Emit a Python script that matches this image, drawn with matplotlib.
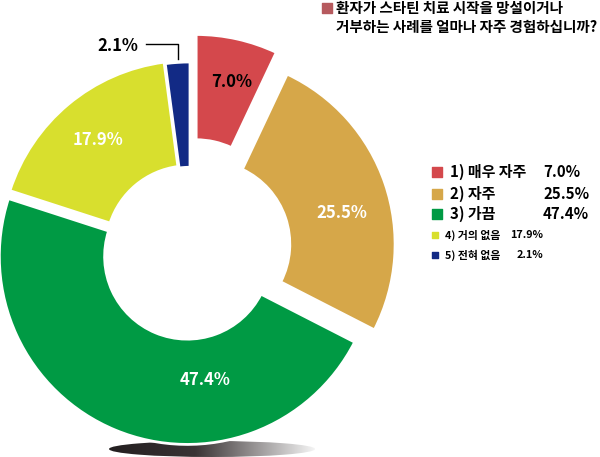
import numpy as np
import matplotlib.pyplot as plt
from matplotlib.patches import Ellipse
from matplotlib.colors import LinearSegmentedColormap

plt.rcParams['font.family'] = ['Noto Sans CJK KR', 'DejaVu Sans']

# data
labels = ['1) 매우 자주', '2) 자주', '3) 가끔', '4) 거의 없음', '5) 전혀 없음']
values = [7.0, 25.5, 47.4, 17.9, 2.1]
colors = ['#d4484c', '#d6a749', '#009a44', '#d8df2e', '#122a85']
explode = [0.15, 0.096, 0.037, 0.01, 0.0]
title_lines = ['환자가 스타틴 치료 시작을 망설이거나', '거부하는 사례를 얼마나 자주 경험하십니까?']

W, H = 600, 457
bx, by, R = 190, 250, 188   # pie centre and radius in pixels


def px(x, y):
    # pixel position (from top-left) -> data coords of the unit pie
    return (x - bx) / R, (by - y) / R


fig = plt.figure(figsize=(W / 100, H / 100), dpi=100)
ax = fig.add_axes([0, 0, 1, 1])

wedges, _ = ax.pie(values, colors=colors, startangle=90, counterclock=False,
                   explode=explode, radius=1.0,
                   wedgeprops=dict(width=0.56, edgecolor='white', linewidth=2))

x0, y0 = px(0, H)
x1, y1 = px(W, 0)

# shadow under the donut
ecx, ecy = px(212, 449)
ell = Ellipse((ecx, ecy), 206 / R, 16 / R, facecolor='none', edgecolor='none')
ax.add_patch(ell)
cmap = LinearSegmentedColormap.from_list('shade', [(0, '#231f20'), (0.42, '#3a3435'), (1, '#f4f4f4')])
grad = np.linspace(0, 1, 256).reshape(1, -1)
img = ax.imshow(grad, cmap=cmap, extent=(ecx - 103 / R, ecx + 103 / R, ecy - 8 / R, ecy + 8 / R),
                aspect='auto', zorder=0)
img.set_clip_path(ell)

ax.set_xlim(x0, x1)
ax.set_ylim(y0, y1)
ax.set_aspect('equal')
ax.axis('off')

# slice labels
lab_pos = [(232, 82), (342, 213), (205, 380), (98, 140)]
lab_col = ['black', 'white', 'white', 'white']
for v, (lx, ly), c in zip(values[:4], lab_pos, lab_col):
    ax.text(*px(lx, ly), f'{v:.1f}%', color=c, fontsize=12, fontweight='bold',
            ha='center', va='center')

# small slice label with leader line
ax.text(*px(118, 46), f'{values[4]:.1f}%', color='black', fontsize=12, fontweight='bold',
        ha='center', va='center')
lx, ly = zip(px(146, 44), px(178, 44), px(178, 59))
ax.plot(lx, ly, color='black', lw=1)

# title
ax.scatter(*px(327, 8), marker='s', s=52, color='#b65a5e')
for i, line in enumerate(title_lines):
    ax.text(*px(336, 8.5 + 18.5 * i), line, fontsize=10.5, fontweight='bold',
            ha='left', va='center')

# legend
rows_y = [172, 194, 214, 235, 255]
for i, (lab, v, c) in enumerate(zip(labels, values, colors)):
    if i < 3:
        ax.scatter(*px(437, rows_y[i]), marker='s', s=52, color=c)
        ax.text(*px(450, rows_y[i]), lab, fontsize=10.8, fontweight='bold',
                ha='left', va='center')
        ax.text(*px(543, rows_y[i]), f'{v:.1f}%', fontsize=10.8, fontweight='bold',
                ha='left', va='center')
    else:
        ax.scatter(*px(435, rows_y[i]), marker='s', s=25, color=c)
        ax.text(*px(445, rows_y[i]), lab, fontsize=7.8, fontweight='bold',
                ha='left', va='center')
        ax.text(*px(543, rows_y[i]), f'{v:.1f}%', fontsize=7.8, fontweight='bold',
                ha='right', va='center')

fig.savefig('out.png', dpi=100)
